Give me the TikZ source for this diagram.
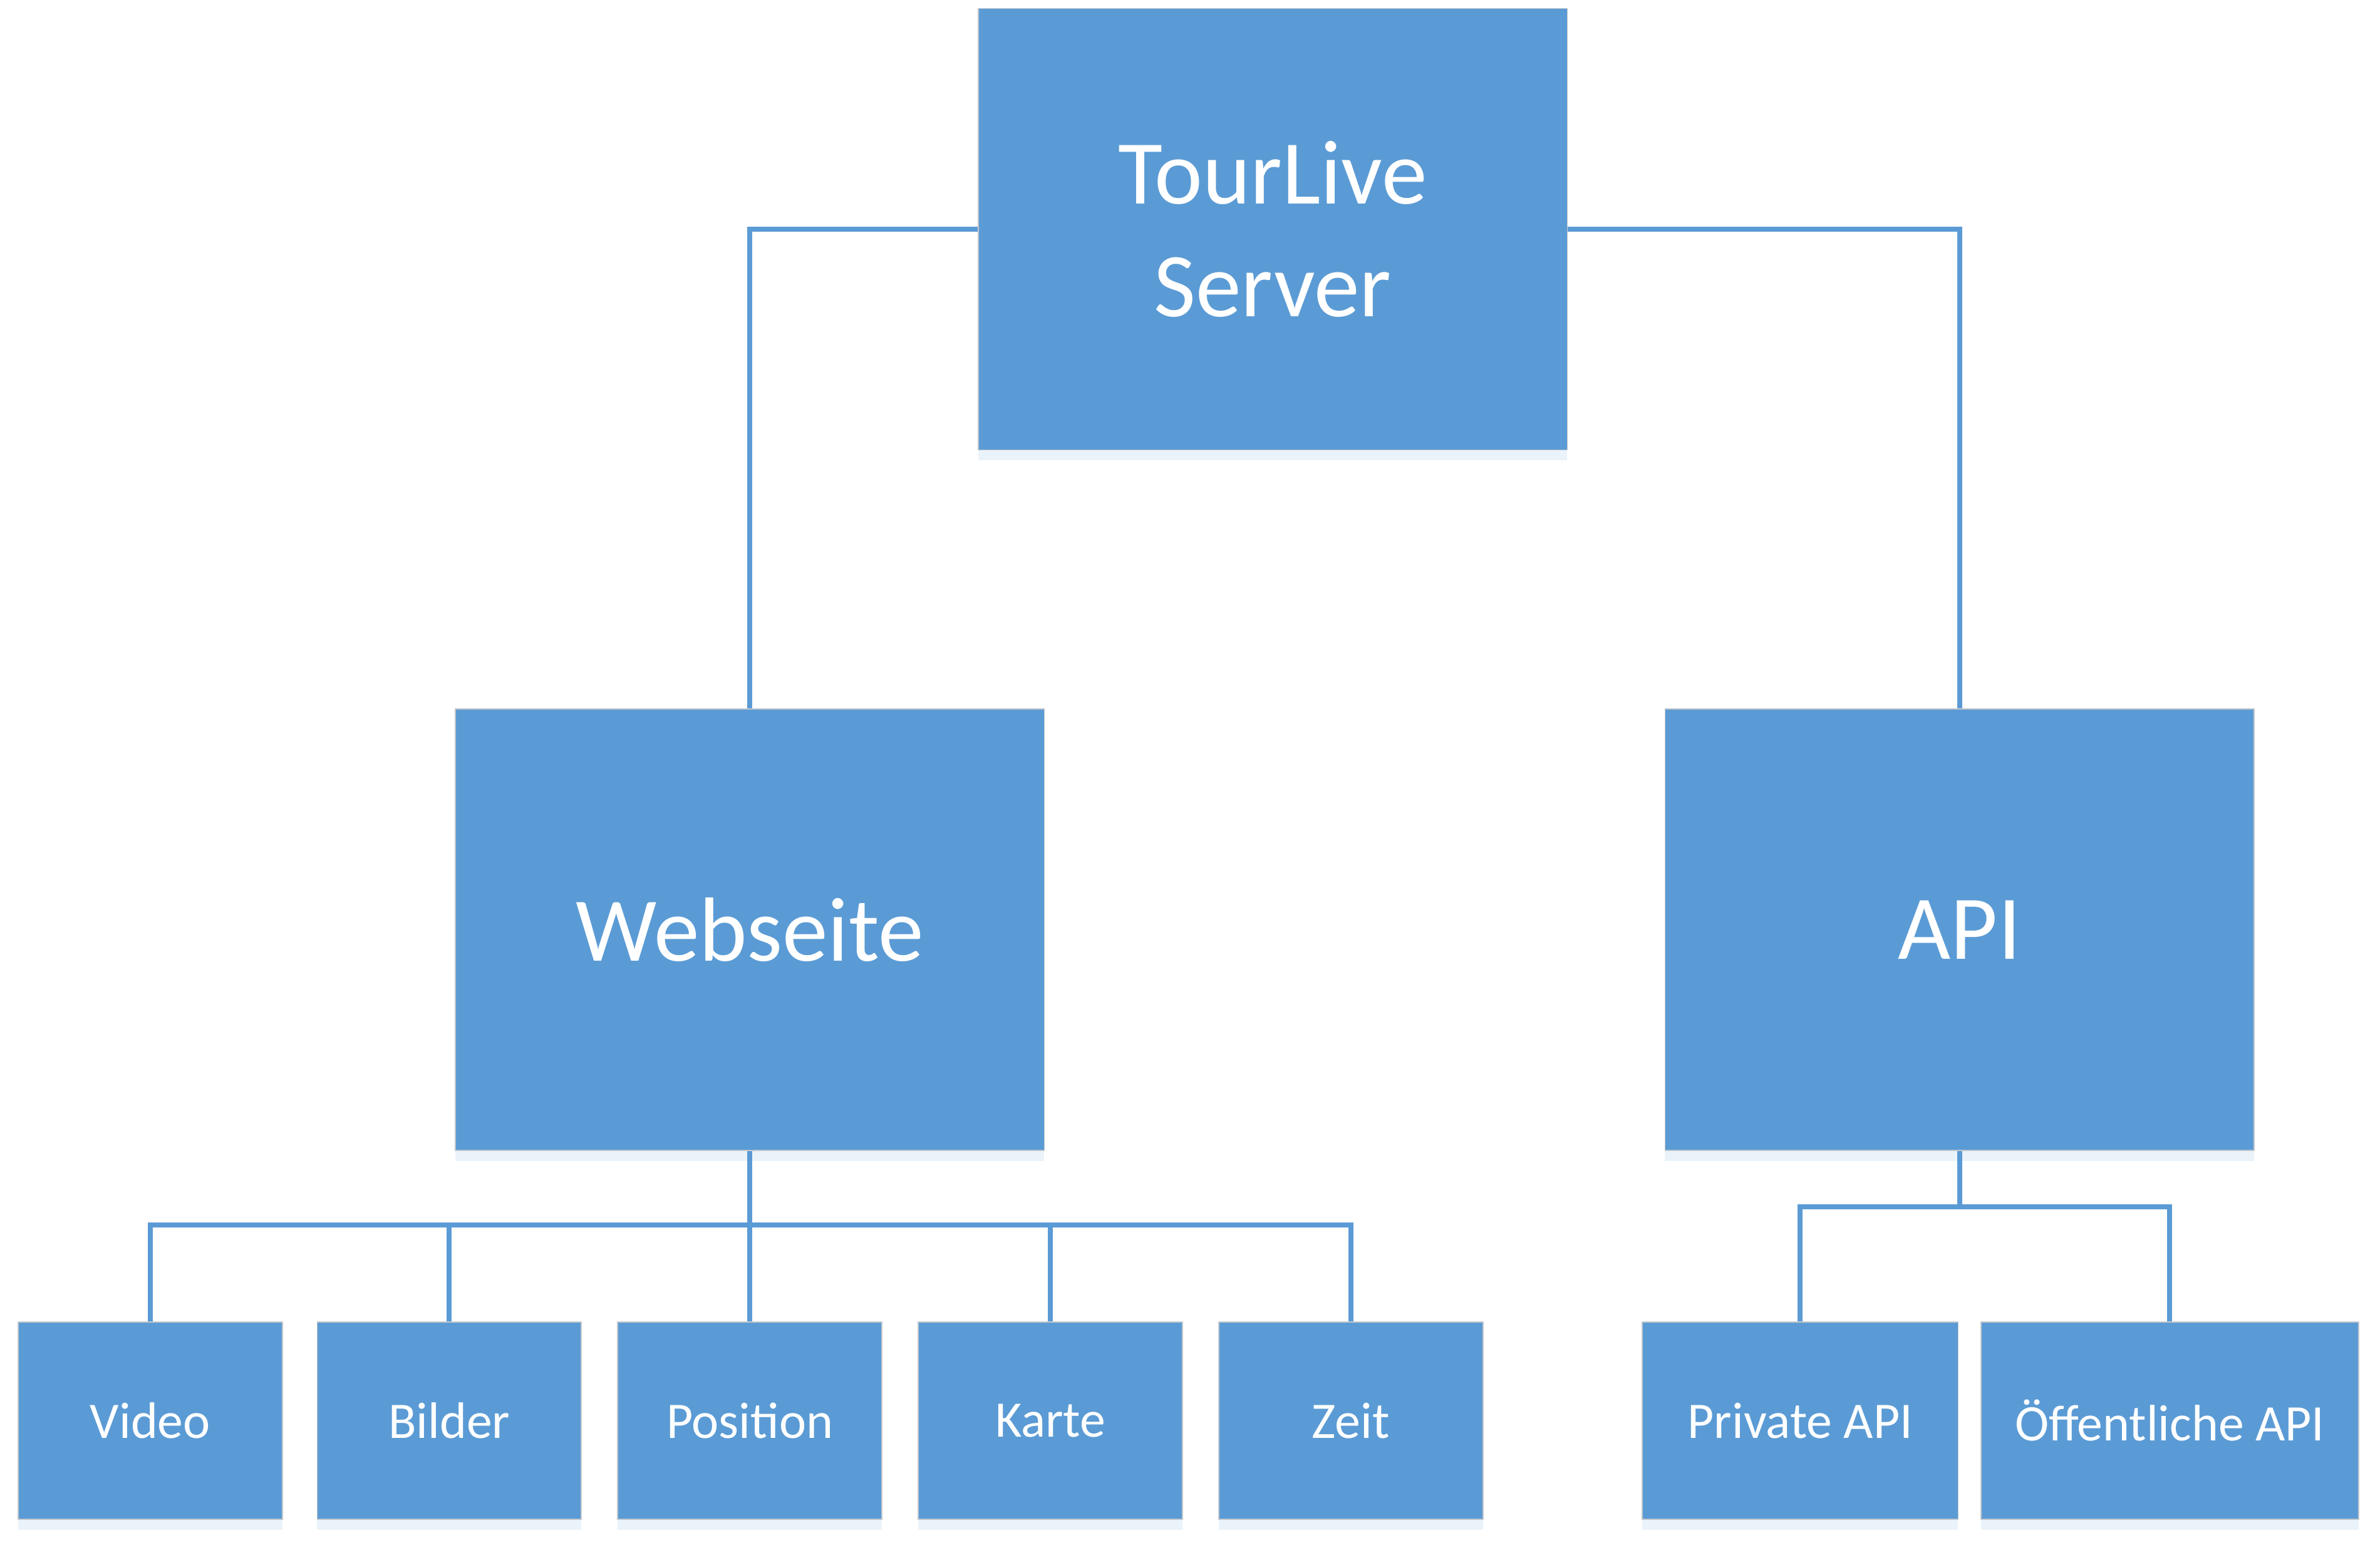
\documentclass[tikz,border=0pt]{standalone}
\usepackage{fontspec}
\setmainfont{Carlito}
\usetikzlibrary{shadows}
\definecolor{boxblue}{HTML}{5B9BD5}
\definecolor{boxedge}{HTML}{C4C8CC}
\begin{document}
\begin{tikzpicture}[x=0.025cm, y=-0.025cm,
    every node/.style={rectangle, fill=boxblue, draw=boxedge, line width=0.5pt,
      text=white, inner sep=0pt, align=center,
      drop shadow={fill=boxblue, opacity=0.12, shadow xshift=0pt, shadow yshift=-5pt}},
    bigbox/.style={minimum width=9.7cm, minimum height=7.27cm,
      font=\fontsize{42.7}{52.7}\selectfont},
    smallbox/.style={minimum width=4.35cm, minimum height=3.25cm,
      font=\fontsize{24}{29}\selectfont},
    link/.style={draw=boxblue, line width=2.4pt}
]
\useasboundingbox (0,0) rectangle (1568,1021);

% top
\node[bigbox] (server) at (838.5,151) {TourLive\\Server};

% middle
\node[bigbox] (web) at (494,612.5) {Webseite};
\node[bigbox] (api) at (1291,612.5) {API};

\draw[link] (server.west) -| (web.north);
\draw[link] (server.east) -| (api.north);

% Webseite children
\node[smallbox] (video) at (99,936) {Video};
\node[smallbox] (bilder) at (296,936) {Bilder};
\node[smallbox] (position) at (494,936) {Position};
\node[smallbox] (karte) at (692,936) {Karte};
\node[smallbox] (zeit) at (890,936) {Zeit};

\coordinate (webbus) at (494,807);
\draw[link] (web.south) -- (webbus);
\draw[link] (webbus) -| (video.north);
\draw[link] (webbus) -| (bilder.north);
\draw[link] (webbus) -- (position.north);
\draw[link] (webbus) -| (karte.north);
\draw[link] (webbus) -| (zeit.north);

% API children
\node[smallbox, minimum width=5.2cm] (private) at (1186,936) {Private API};
\node[smallbox, minimum width=6.22cm] (public) at (1429.5,936) {Öffentliche API};

\coordinate (apibus) at (1291,795);
\draw[link] (api.south) -- (apibus);
\draw[link] (apibus) -| (private.north);
\draw[link] (apibus) -| (public.north);

\end{tikzpicture}
\end{document}
